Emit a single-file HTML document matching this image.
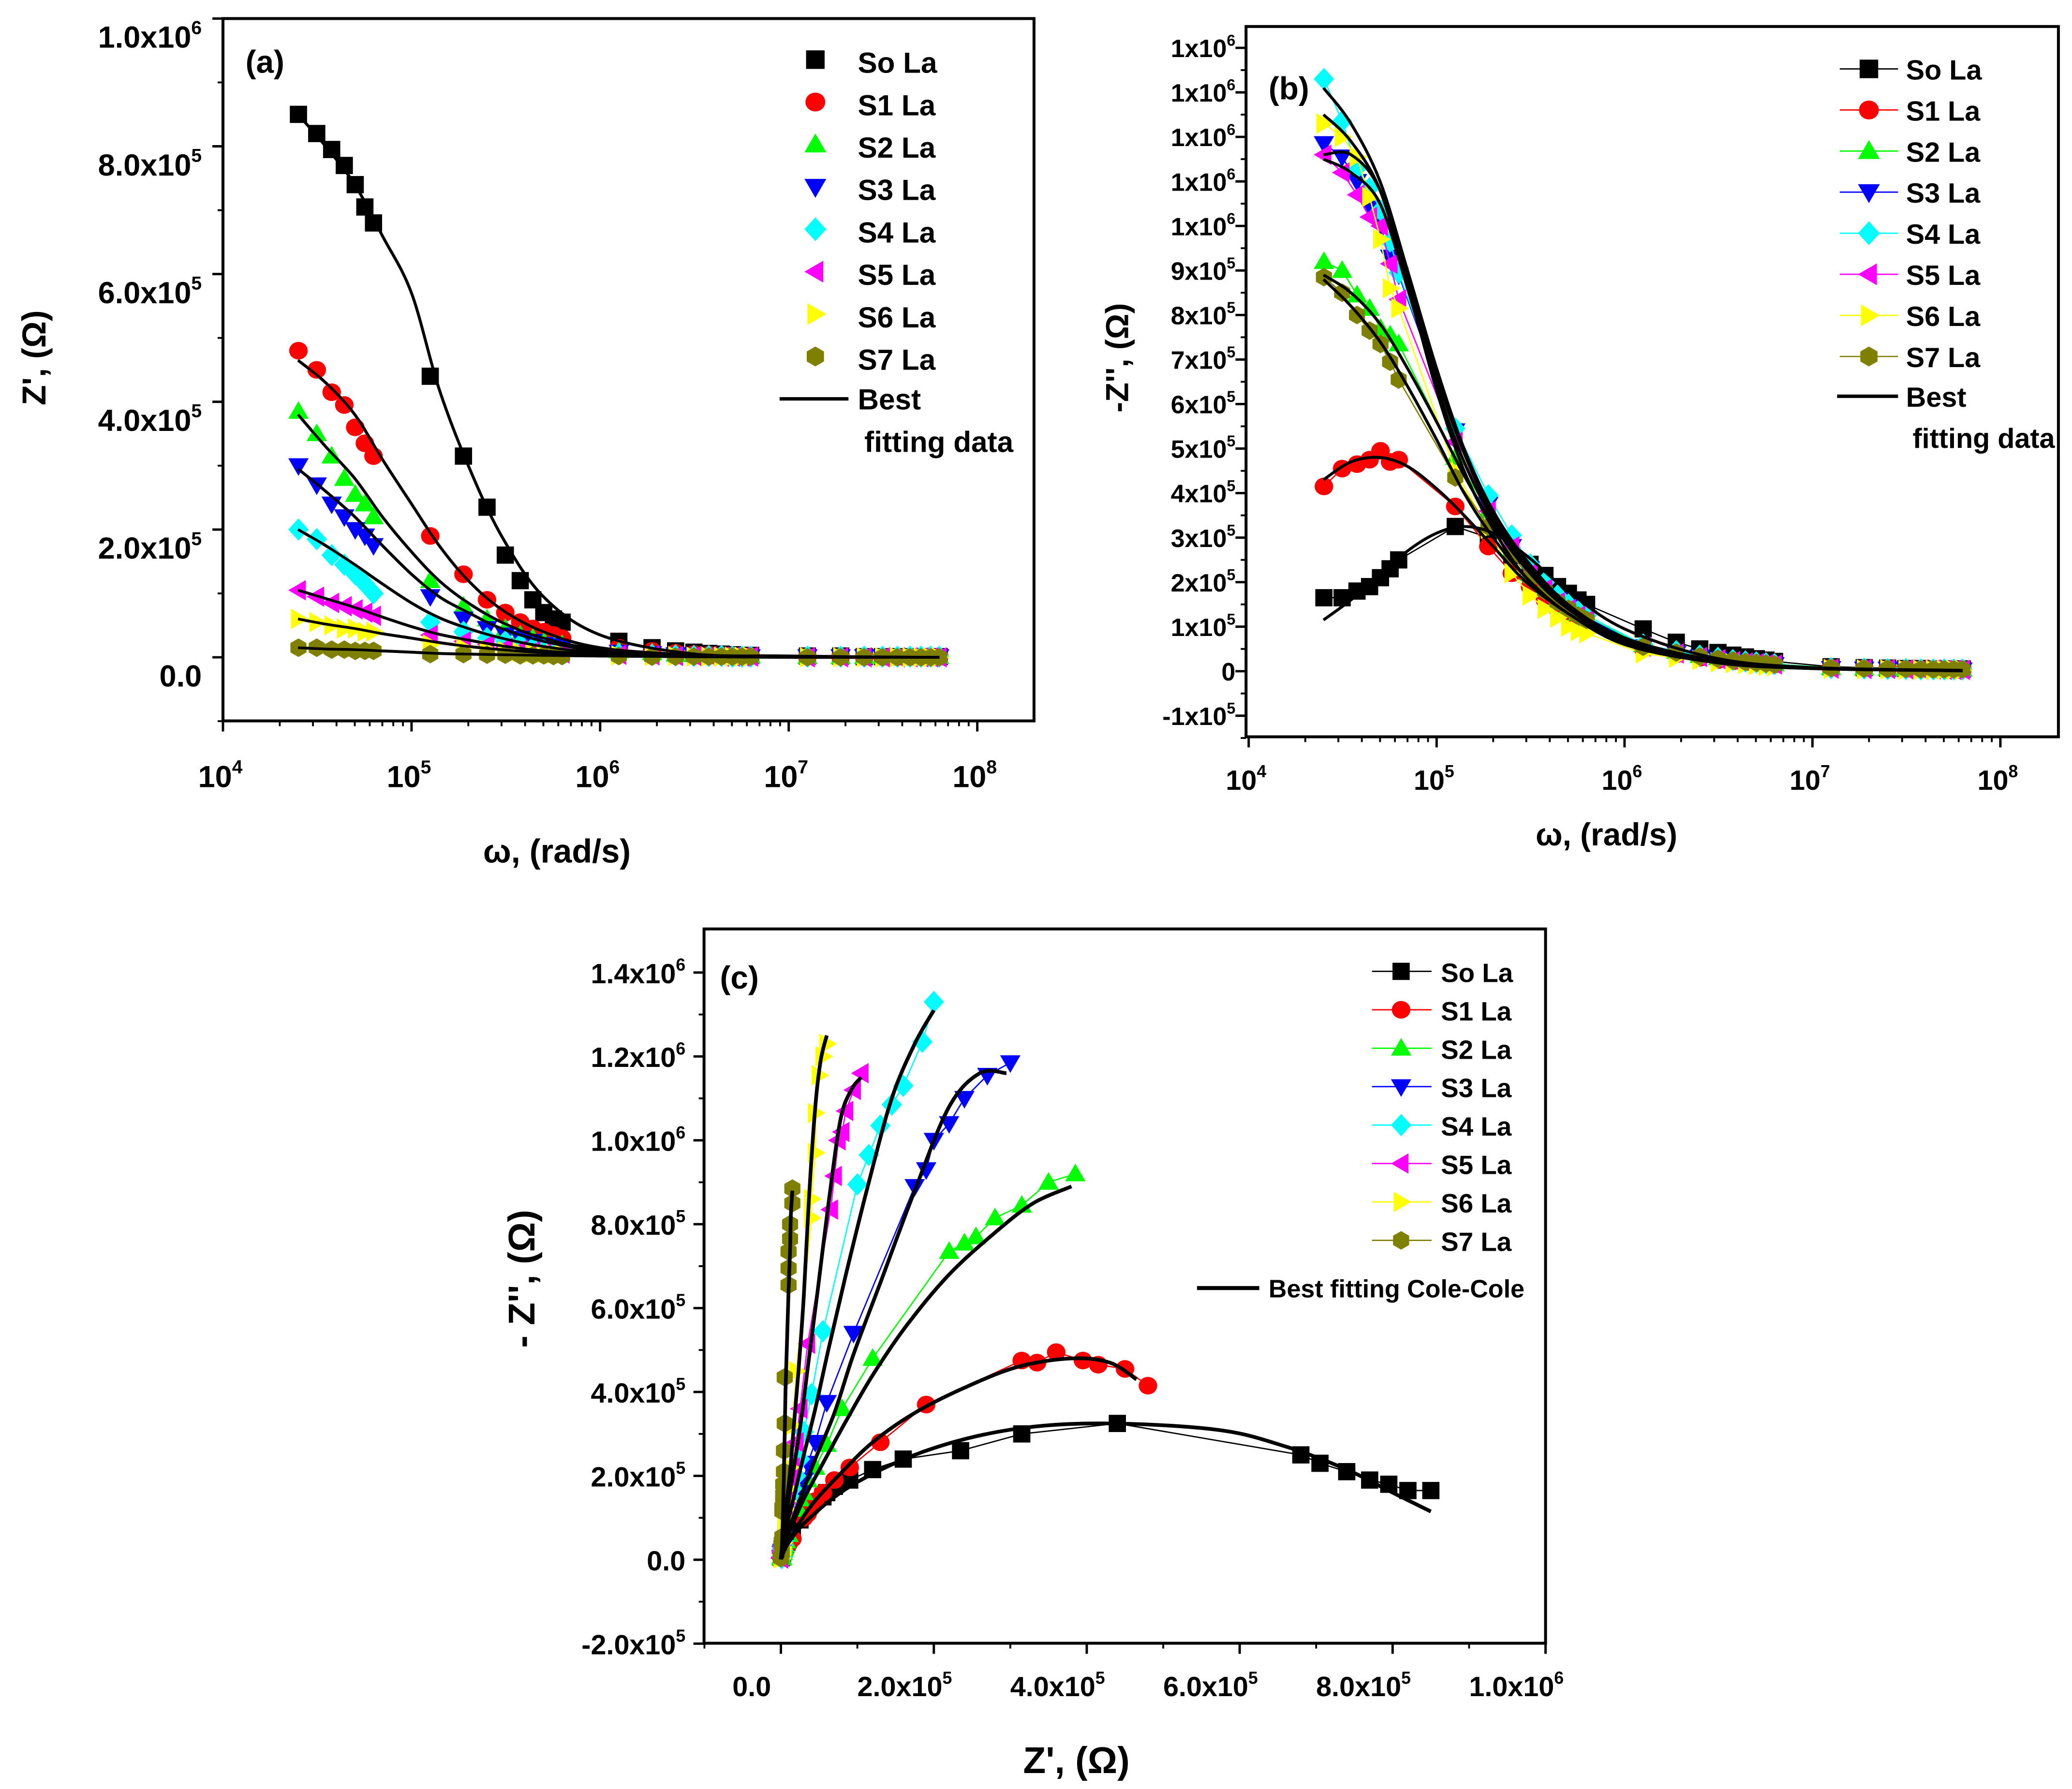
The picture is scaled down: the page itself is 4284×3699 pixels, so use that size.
<!DOCTYPE html>
<html><head><meta charset="utf-8"><style>
html,body{margin:0;padding:0;background:#fff;}
svg{display:block;}
text{font-family:"Liberation Sans",Arial,sans-serif;font-weight:bold;fill:#000;}
</style></head><body>
<svg id="fig" xmlns="http://www.w3.org/2000/svg" width="4284" height="3699" viewBox="0 0 1563 1350">
<rect x="0" y="0" width="1563" height="1350" fill="#fff"/>
</svg>
<script>
// ---- data ----
const freqHz = [4000,5000,6000,7000,8000,9000,10000,
  20000,30000,40000,50000,60000,70000,80000,90000,100000,
  200000,300000,400000,500000,600000,700000,800000,900000,1000000,
  2000000,3000000,4000000,5000000,6000000,7000000,8000000,9000000,10000000];
const seriesNames = ["So La","S1 La","S2 La","S3 La","S4 La","S5 La","S6 La","S7 La"];
// Z' (x1e5 Ohm)
const zr0 = [8.5,8.2,7.95,7.7,7.4,7.05,6.8, 4.4,3.15,2.35,1.6,1.2,0.9,0.7,0.6,0.55, 0.25,0.15,0.1,0.08,0.06,0.05,0.04,0.03,0.03, 0.02,0.02,0.01,0.01,0.01,0.01,0.01,0.01,0.01];
const zr1 = [4.8,4.5,4.15,3.95,3.6,3.35,3.15, 1.9,1.3,0.9,0.7,0.55,0.45,0.4,0.35,0.3, 0.15,0.1,0.07,0.05,0.04,0.03,0.03,0.02,0.02, 0.01,0.01,0.01,0.01,0.01,0.01,0.01,0.01,0.01];
const zr2 = [3.85,3.5,3.15,2.8,2.55,2.4,2.2, 1.2,0.8,0.6,0.45,0.35,0.3,0.25,0.2,0.2, 0.1,0.07,0.05,0.04,0.03,0.03,0.02,0.02,0.02, 0.01,0.01,0.01,0.01,0.01,0.01,0.01,0.01,0.01];
const zr3 = [3.0,2.7,2.4,2.2,2.0,1.9,1.75, 0.95,0.6,0.45,0.35,0.3,0.25,0.2,0.18,0.15, 0.08,0.06,0.04,0.03,0.03,0.02,0.02,0.02,0.01, 0.01,0.01,0.01,0.01,0.01,0.01,0.01,0.01,0.01];
const zr4 = [2.0,1.85,1.6,1.45,1.3,1.15,1.0, 0.55,0.4,0.3,0.25,0.2,0.15,0.12,0.1,0.08, 0.05,0.04,0.03,0.02,0.02,0.02,0.01,0.01,0.01, 0.01,0.01,0.01,0.01,0.01,0.01,0.01,0.01,0.01];
const zr5 = [1.05,0.95,0.85,0.8,0.75,0.7,0.65, 0.35,0.25,0.2,0.15,0.12,0.1,0.08,0.07,0.06, 0.04,0.03,0.02,0.02,0.02,0.01,0.01,0.01,0.01, 0,0,0,0,0,0,0,0,0];
const zr6 = [0.6,0.55,0.5,0.45,0.45,0.4,0.4, 0.2,0.15,0.12,0.1,0.08,0.07,0.06,0.05,0.05, 0.03,0.02,0.02,0.01,0.01,0.01,0.01,0.01,0.01, 0,0,0,0,0,0,0,0,0];
const zr7 = [0.15,0.15,0.12,0.12,0.1,0.1,0.1, 0.05,0.05,0.04,0.04,0.03,0.03,0.03,0.02,0.02, 0.02,0.01,0.01,0.01,0.01,0.01,0.01,0.01,0.01, 0,0,0,0,0,0,0,0,0];
// -Z'' (x1e5 Ohm)
const zi0 = [1.65,1.65,1.8,1.9,2.1,2.3,2.5, 3.25,3.0,2.6,2.4,2.15,1.9,1.75,1.6,1.5, 0.95,0.65,0.5,0.42,0.36,0.32,0.28,0.25,0.22, 0.1,0.08,0.07,0.06,0.06,0.05,0.05,0.05,0.05];
const zi1 = [4.15,4.55,4.65,4.75,4.95,4.7,4.75, 3.7,2.8,2.2,1.9,1.6,1.4,1.25,1.1,1.0, 0.5,0.38,0.3,0.25,0.22,0.2,0.18,0.16,0.15, 0.08,0.07,0.06,0.05,0.05,0.05,0.04,0.04,0.04];
const zi2 = [9.2,9.0,8.45,8.15,7.7,7.55,7.35, 4.8,3.6,2.75,2.2,1.9,1.6,1.45,1.3,1.2, 0.6,0.45,0.35,0.3,0.26,0.23,0.2,0.18,0.16, 0.08,0.07,0.06,0.05,0.05,0.05,0.04,0.04,0.04];
const zi3 = [11.85,11.55,11.0,10.4,10.0,9.3,8.9, 5.4,3.75,2.8,2.3,1.9,1.6,1.45,1.3,1.2, 0.55,0.4,0.32,0.27,0.23,0.2,0.18,0.16,0.15, 0.06,0.05,0.05,0.04,0.04,0.04,0.03,0.03,0.03];
const zi4 = [13.3,12.35,11.3,10.85,10.35,9.65,8.95, 5.45,3.95,3.05,2.4,2.0,1.7,1.5,1.35,1.25, 0.6,0.45,0.35,0.3,0.25,0.22,0.2,0.18,0.16, 0.07,0.06,0.05,0.05,0.04,0.04,0.04,0.04,0.04];
const zi5 = [11.6,11.2,10.7,10.2,10.0,9.15,8.35, 5.15,3.6,2.8,2.2,1.85,1.55,1.4,1.25,1.15, 0.55,0.4,0.32,0.27,0.23,0.2,0.18,0.16,0.15, 0.06,0.05,0.05,0.04,0.04,0.04,0.03,0.03,0.03];
const zi6 = [12.3,12.0,11.55,10.65,9.7,8.6,8.15, 4.5,3.2,2.2,1.7,1.4,1.2,1.0,0.9,0.85, 0.4,0.3,0.25,0.2,0.18,0.16,0.14,0.12,0.11, 0.05,0.04,0.04,0.03,0.03,0.03,0.03,0.03,0.03];
const zi7 = [8.85,8.5,8.0,7.65,7.35,6.95,6.55, 4.35,3.25,2.6,2.1,1.8,1.55,1.4,1.25,1.15, 0.55,0.42,0.33,0.28,0.24,0.21,0.19,0.17,0.15, 0.07,0.06,0.05,0.05,0.04,0.04,0.04,0.04,0.04];
// best fitting curves (x1e5 Ohm) at fitOmega (rad/s)
const fitOmega = [2.5e4,3.5e4,5e4,7e4,1e5,1.4e5,2e5,3e5,5e5,1e6,3e6,1e7,6.3e7];
const fzr0 = [8.5,8.0,7.4,6.6,5.7,4.2,3.0,1.9,0.95,0.35,0.06,0.02,0.0];
const fzr1 = [4.65,4.3,3.8,3.1,2.4,1.75,1.2,0.75,0.4,0.15,0.04,0.01,0];
const fzr2 = [3.8,3.3,2.8,2.2,1.65,1.2,0.85,0.55,0.3,0.12,0.03,0.01,0];
const fzr3 = [2.95,2.6,2.2,1.75,1.3,0.95,0.7,0.45,0.25,0.1,0.03,0.01,0];
const fzr4 = [2.0,1.75,1.45,1.15,0.85,0.62,0.45,0.3,0.17,0.07,0.02,0.01,0];
const fzr5 = [1.05,0.92,0.78,0.63,0.48,0.36,0.27,0.18,0.1,0.05,0.02,0.01,0];
const fzr6 = [0.6,0.52,0.45,0.37,0.3,0.23,0.17,0.12,0.07,0.03,0.01,0,0];
const fzr7 = [0.15,0.13,0.12,0.1,0.08,0.06,0.05,0.04,0.03,0.02,0.01,0,0];
const fzi0 = [1.15,1.6,2.15,2.7,3.1,3.25,3.1,2.6,1.8,0.95,0.3,0.08,0.02];
const fzi1 = [4.3,4.7,4.8,4.6,4.1,3.5,2.8,2.0,1.3,0.6,0.2,0.06,0.01];
const fzi2 = [8.9,8.5,7.8,6.8,5.6,4.4,3.3,2.3,1.45,0.7,0.24,0.07,0.01];
const fzi3 = [11.6,11.6,10.8,8.8,6.6,4.9,3.5,2.4,1.45,0.7,0.24,0.07,0.01];
const fzi4 = [13.1,12.3,11.0,9.0,6.8,5.0,3.6,2.5,1.5,0.75,0.25,0.08,0.01];
const fzi5 = [11.5,11.2,10.5,8.6,6.4,4.7,3.4,2.3,1.4,0.7,0.24,0.07,0.01];
const fzi6 = [12.5,11.9,10.8,8.7,6.3,4.5,3.2,2.1,1.3,0.65,0.2,0.06,0.01];
const fzi7 = [8.8,8.2,7.4,6.4,5.2,4.0,3.0,2.1,1.3,0.65,0.2,0.06,0.01];
// tick labels
const aYTicks = [0,2,4,6,8,10];
const aYLabels = [["0.0",""],["2.0x10","5"],["4.0x10","5"],["6.0x10","5"],["8.0x10","5"],["1.0x10","6"]];
const bYTicks = [-1,0,1,2,3,4,5,6,7,8,9,10,11,12,13,14];
const bYLabels = [["-1x10","5"],["0",""],["1x10","5"],["2x10","5"],["3x10","5"],["4x10","5"],["5x10","5"],["6x10","5"],["7x10","5"],["8x10","5"],["9x10","5"],["1x10","6"],["1x10","6"],["1x10","6"],["1x10","6"],["1x10","6"]];
const logDecades = [4,5,6,7,8];
const cTicks = [-2,0,2,4,6,8,10,12,14];
const cYLabels = [["-2.0x10","5"],["0.0",""],["2.0x10","5"],["4.0x10","5"],["6.0x10","5"],["8.0x10","5"],["1.0x10","6"],["1.2x10","6"],["1.4x10","6"]];
const cXTicks = [0,2,4,6,8,10];
const cXLabels = [["0.0",""],["2.0x10","5"],["4.0x10","5"],["6.0x10","5"],["8.0x10","5"],["1.0x10","6"]];

const ZR=[zr0,zr1,zr2,zr3,zr4,zr5,zr6,zr7], ZI=[zi0,zi1,zi2,zi3,zi4,zi5,zi6,zi7];
const FZR=[fzr0,fzr1,fzr2,fzr3,fzr4,fzr5,fzr6,fzr7], FZI=[fzi0,fzi1,fzi2,fzi3,fzi4,fzi5,fzi6,fzi7];
const colors=["#000000","#ff0000","#00ff00","#0000ff","#00ffff","#ff00ff","#ffff00","#808000"];
const shapes=["square","circle","up","down","diamond","left","right","hex"];

// ---- axes ----
const xa = w => 168 + (Math.log10(w)-4)*142.3;
const ya = v => 496 - v*48.2;
const xb = w => 942 + (Math.log10(w)-4)*141.8;
const yb = v => 506.5 - v*33.6;
const xc = v => 589 + v*57.7;
const yc = v => 1177 - v*31.65;

const NS="http://www.w3.org/2000/svg";
const svg=document.getElementById('fig');
function mk(tag,attrs,parent){const e=document.createElementNS(NS,tag);for(const k in attrs)e.setAttribute(k,attrs[k]);(parent||svg).appendChild(e);return e;}
function grp(name){const g=mk('g',{});


return g;}
function txt(parent,x,y,main,sup,size,anchor,name){
  const t=mk('text',{x:x,y:y,'font-size':size,'text-anchor':anchor||'start'},parent);
  
  
  t.appendChild(document.createTextNode(main));
  if(sup){const s=mk('tspan',{dy:-size*0.45,'font-size':size*0.62},t);s.textContent=sup;}
  return t;
}
function marker(parent,shape,x,y,c,s){
  s=s||7;let e;
  if(shape==='square') e=mk('rect',{x:x-s+0.5,y:y-s+0.5,width:2*s-1,height:2*s-1,fill:c},parent);
  else if(shape==='circle') e=mk('ellipse',{cx:x,cy:y,rx:s,ry:s*0.95,fill:c},parent);
  else {
    let p;
    if(shape==='up') p=[[x,y-s*1.1],[x+s*1.1,y+s*0.8],[x-s*1.1,y+s*0.8]];
    else if(shape==='down') p=[[x,y+s*1.1],[x+s*1.1,y-s*0.8],[x-s*1.1,y-s*0.8]];
    else if(shape==='left') p=[[x-s*1.1,y],[x+s*0.8,y-s*1.1],[x+s*0.8,y+s*1.1]];
    else if(shape==='right') p=[[x+s*1.1,y],[x-s*0.8,y-s*1.1],[x-s*0.8,y+s*1.1]];
    else if(shape==='diamond') p=[[x,y-s*1.2],[x+s*1.1,y],[x,y+s*1.2],[x-s*1.1,y]];
    else {p=[];for(let k=0;k<6;k++){const a=Math.PI/6+k*Math.PI/3;p.push([x+s*Math.cos(a),y+s*Math.sin(a)]);}}
    e=mk('polygon',{points:p.map(q=>q.join(',')).join(' '),fill:c},parent);
  }
  return e;
}
function smoothPath(pts){
  let d='M'+pts[0][0]+','+pts[0][1];
  for(let i=0;i<pts.length-1;i++){
    const p0=pts[Math.max(0,i-1)],p1=pts[i],p2=pts[i+1],p3=pts[Math.min(pts.length-1,i+2)];
    const c1=[p1[0]+(p2[0]-p0[0])/6,p1[1]+(p2[1]-p0[1])/6];
    const c2=[p2[0]-(p3[0]-p1[0])/6,p2[1]-(p3[1]-p1[1])/6];
    d+=' C'+c1.join(',')+' '+c2.join(',')+' '+p2.join(',');
  }
  return d;
}
function frame(parent,x1,y1,x2,y2,name){
  const r=mk('rect',{x:x1,y:y1,width:x2-x1,height:y2-y1,fill:'none',stroke:'#000','stroke-width':2.2},parent);
  
  
}
function line(parent,x1,y1,x2,y2,w,c){return mk('line',{x1:x1,y1:y1,x2:x2,y2:y2,stroke:c||'#000','stroke-width':w||1.5},parent);}
function logXAxis(parent,xf,y0,ly,fs){
  for(let i=0;i<logDecades.length;i++){
    const d=logDecades[i];const X=xf(Math.pow(10,d));
    line(parent,X,y0,X,y0+8,1.8);
    txt(parent,X-2,ly,'10',String(d),fs,'middle','x-tick-label');
    if(i<logDecades.length-1) for(let m=2;m<10;m++){const xm=xf(m*Math.pow(10,d));line(parent,xm,y0,xm,y0+4,1.4);}
  }
}

// ================= Panel A =================
const pa=grp('panel-a');
frame(pa,168,14,780,544,'plot-frame-a');
for(let i=0;i<aYTicks.length;i++){const Y=ya(aYTicks[i]);line(pa,160,Y,168,Y,1.8);txt(pa,152,Y+22,aYLabels[i][0],aYLabels[i][1],23,'end','y-tick-label');}
for(let v=-1;v<10;v+=2){const Y=ya(v);line(pa,164,Y,168,Y,1.4);}
logXAxis(pa,xa,544,594,23);
txt(pa,420,651,'ω, (rad/s)','',25,'middle','x-axis-title-a');
{const t=txt(pa,0,0,"Z', (Ω)",'',25,'middle','y-axis-title-a');t.setAttribute('transform','translate(34,270) rotate(-90)');}
txt(pa,185,55,'(a)','',24,'start','panel-label-a');
const fitsA=grp('fit-curves-a');
for(let s=0;s<8;s++){
  const p=mk('path',{d:smoothPath(fitOmega.map((w,i)=>[xa(w),ya(FZR[s][i])])),fill:'none',stroke:'#000','stroke-width':2.2},fitsA);
  
  
}
for(let s=0;s<8;s++){
  const g=grp('series-a-'+s);
  for(let i=0;i<freqHz.length;i++){
    const w=2*Math.PI*freqHz[i];
    const m=marker(g,shapes[s],xa(w),ya(ZR[s][i]),colors[s]);
    
    
  }
}
for(let s=0;s<8;s++){
  const p=mk('path',{d:smoothPath(fitOmega.map((w,i)=>[xa(w),ya(FZR[s][i])])),fill:'none',stroke:'#000','stroke-width':2},fitsA.parentNode);
  
  
}
const la=grp('legend-a');
for(let s=0;s<8;s++){
  const Y=47+s*32;
  const m=marker(la,shapes[s],615,Y-2,colors[s],7.5);
  
  
  txt(la,647,Y+8,seriesNames[s],'',22,'start','legend-entry');
}
line(la,588,301,640,301,2.6);
txt(la,647,309,'Best','',22,'start','legend-entry');
txt(la,652,341,'fitting data','',22,'start','legend-entry');

// ================= Panel B =================
const pb=grp('panel-b');
frame(pb,940,20,1553,556,'plot-frame-b');
for(let i=0;i<bYTicks.length;i++){const Y=yb(bYTicks[i]);line(pb,932,Y,940,Y,1.8);txt(pb,932,Y+7,bYLabels[i][0],bYLabels[i][1],19,'end','y-tick-label');}
for(let v=-1.5;v<14.5;v+=1){const Y=yb(v);line(pb,936,Y,940,Y,1.4);}
logXAxis(pb,xb,556,596,21);
txt(pb,1212,638,'ω, (rad/s)','',24,'middle','x-axis-title-b');
{const t=txt(pb,0,0,"-Z'', (Ω)",'',24,'middle','y-axis-title-b');t.setAttribute('transform','translate(851,270) rotate(-90)');}
txt(pb,957,75,'(b)','',24,'start','panel-label-b');
for(let s=0;s<8;s++){
  const g=grp('series-b-'+s);
  const pts=freqHz.map((f,i)=>[xb(2*Math.PI*f),yb(ZI[s][i])]);
  mk('polyline',{points:pts.map(p=>p.join(',')).join(' '),fill:'none',stroke:colors[s],'stroke-width':1},g);
  for(let i=0;i<pts.length;i++){
    const m=marker(g,shapes[s],pts[i][0],pts[i][1],colors[s]);
    
    
  }
}
const fitsB=grp('fit-curves-b');
for(let s=0;s<8;s++){
  const p=mk('path',{d:smoothPath(fitOmega.map((w,i)=>[xb(w),yb(FZI[s][i])])),fill:'none',stroke:'#000','stroke-width':2.2},fitsB);
  
  
}
const lb=grp('legend-b');
for(let s=0;s<8;s++){
  const Y=52+s*31;
  line(lb,1388,Y,1432,Y,1,colors[s]);
  const m=marker(lb,shapes[s],1410,Y,colors[s],7.5);
  
  
  txt(lb,1438,Y+8,seriesNames[s],'',21,'start','legend-entry');
}
line(lb,1386,299,1432,299,2.6);
txt(lb,1438,307,'Best','',21,'start','legend-entry');
txt(lb,1443,338,'fitting data','',21,'start','legend-entry');

// ================= Panel C =================
const pc=grp('panel-c');
frame(pc,531,701,1166,1240,'plot-frame-c');
for(let i=0;i<cTicks.length;i++){const Y=yc(cTicks[i]);line(pc,523,Y,531,Y,1.8);txt(pc,517,Y+8,cYLabels[i][0],cYLabels[i][1],21,'end','y-tick-label');}
for(let v=-1;v<15;v+=2){const Y=yc(v);line(pc,527,Y,531,Y,1.4);}
for(let i=0;i<cXTicks.length;i++){const X=xc(cXTicks[i]);line(pc,X,1240,X,1248,1.8);txt(pc,X-22,1280,cXLabels[i][0],cXLabels[i][1],21,'middle','x-tick-label');}
for(let v=-1;v<10;v+=2){const X=xc(v);line(pc,X,1240,X,1244,1.4);}
txt(pc,812,1338,"Z', (Ω)",'',28,'middle','x-axis-title-c');
{const t=txt(pc,0,0,"- Z'', (Ω)",'',28,'middle','y-axis-title-c');t.setAttribute('transform','translate(403,965) rotate(-90)');}
txt(pc,543,746,'(c)','',24,'start','panel-label-c');
for(let s=0;s<8;s++){
  const g=grp('series-c-'+s);
  const pts=freqHz.map((f,i)=>[xc(ZR[s][i]),yc(ZI[s][i])]);
  mk('polyline',{points:pts.map(p=>p.join(',')).join(' '),fill:'none',stroke:colors[s],'stroke-width':1},g);
  for(let i=0;i<pts.length;i++){
    const m=marker(g,shapes[s],pts[i][0],pts[i][1],colors[s]);
    
    
  }
}
const fitsC=grp('fit-curves-c');
for(let s=0;s<8;s++){
  const p=mk('path',{d:smoothPath(fitOmega.map((w,i)=>[xc(FZR[s][i]),yc(FZI[s][i])])),fill:'none',stroke:'#000','stroke-width':2.8},fitsC);
  
  
}
const lc=grp('legend-c');
for(let s=0;s<8;s++){
  const Y=733+s*29;
  line(lc,1035,Y,1080,Y,1,colors[s]);
  const m=marker(lc,shapes[s],1057,Y,colors[s],7);
  
  
  txt(lc,1087,Y+8,seriesNames[s],'',20,'start','legend-entry');
}
line(lc,903,972,950,972,3);
txt(lc,957,979,'Best fitting Cole-Cole','',19,'start','legend-entry');
</script>
</body></html>
